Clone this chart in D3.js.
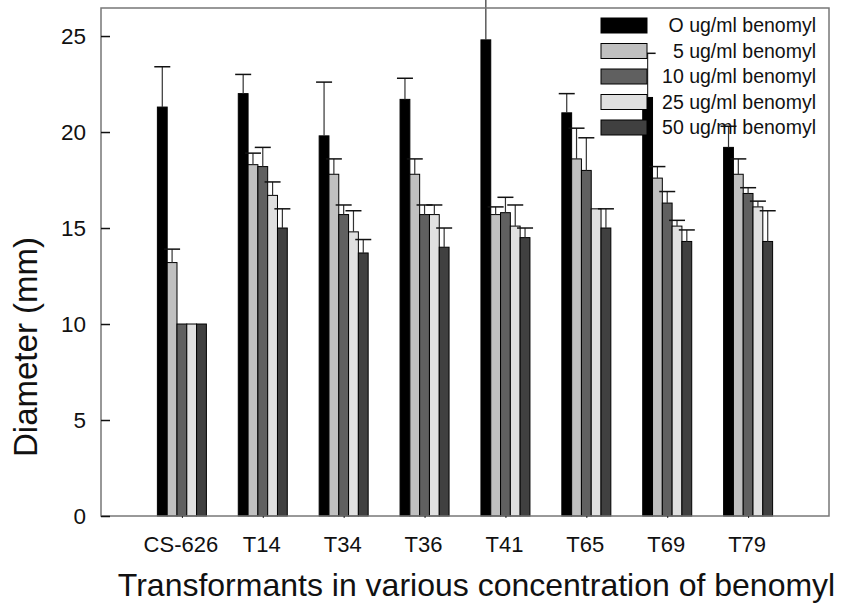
<!DOCTYPE html>
<html>
<head>
<meta charset="utf-8">
<script src="https://cdn.jsdelivr.net/npm/d3@7"></script>
<style>
  html, body { margin: 0; padding: 0; background: #fff; }
  svg { display: block; font-family: "Liberation Sans", Arial, sans-serif; }
</style>
</head>
<body>
<svg id="chart" width="848" height="607"></svg>
<script>
// Colony diameter of transformants grown at increasing benomyl concentrations
const categories = ["CS-626", "T14", "T34", "T36", "T41", "T65", "T69", "T79"];
const seriesNames = ["O ug/ml benomyl", "5 ug/ml benomyl", "10 ug/ml benomyl", "25 ug/ml benomyl", "50 ug/ml benomyl"];
const seriesColors = ["#000000", "#c0c0c0", "#606060", "#e0e0e0", "#404040"];

// mean diameter (mm) per concentration
const conc0  = [21.3, 22.0, 19.8, 21.7, 24.8, 21.0, 21.8, 19.2];
const conc5  = [13.2, 18.3, 17.8, 17.8, 15.7, 18.6, 17.6, 17.8];
const conc10 = [10.0, 18.2, 15.7, 15.7, 15.8, 18.0, 16.3, 16.8];
const conc25 = [10.0, 16.7, 14.8, 15.7, 15.1, 16.0, 15.1, 16.1];
const conc50 = [10.0, 15.0, 13.7, 14.0, 14.5, 15.0, 14.3, 14.3];

// upper error (mm)
const err0  = [2.1, 1.0, 2.8, 1.1, 2.7, 1.0, 2.3, 1.1];
const err5  = [0.7, 0.6, 0.8, 0.8, 0.4, 1.6, 0.6, 0.8];
const err10 = [0.0, 1.0, 0.5, 0.5, 0.8, 1.7, 0.6, 0.3];
const err25 = [0.0, 0.7, 1.1, 0.5, 1.1, 0.0, 0.3, 0.3];
const err50 = [0.0, 1.0, 0.7, 1.0, 0.5, 1.0, 0.6, 1.6];

const yTicks = [0, 5, 10, 15, 20, 25];
const xTitle = "Transformants in various concentration of benomyl";
const yTitle = "Diameter (mm)";

const means = [conc0, conc5, conc10, conc25, conc50];
const errs = [err0, err5, err10, err25, err50];

const svg = d3.select("#chart");
const plotLeft = 101, plotRight = 829, plotTop = 8, plotBottom = 516;

const x = d3.scalePoint().domain(categories).range([plotLeft, plotRight]).padding(1);
const inner = d3.scaleBand().domain(d3.range(seriesNames.length)).range([-24.5, 24.5]);
const y = d3.scaleLinear().domain([0, 26.46]).range([plotBottom, plotTop]);

const bars = [];
means.forEach((vals, s) => vals.forEach((v, i) => {
  bars.push({ s, cat: categories[i], v, e: errs[s][i] });
}));

// bars
svg.append("g").selectAll("rect").data(bars).join("rect")
  .attr("x", d => x(d.cat) + inner(d.s))
  .attr("y", d => y(d.v))
  .attr("width", inner.bandwidth())
  .attr("height", d => y(0) - y(d.v))
  .attr("fill", d => seriesColors[d.s])
  .attr("stroke", "#000")
  .attr("stroke-width", 1);

// upper error bars
const eb = svg.append("g").selectAll("g").data(bars.filter(d => d.e > 0)).join("g");
eb.append("line")
  .attr("x1", d => x(d.cat) + inner(d.s) + inner.bandwidth() / 2)
  .attr("x2", d => x(d.cat) + inner(d.s) + inner.bandwidth() / 2)
  .attr("y1", d => y(d.v))
  .attr("y2", d => y(d.v + d.e))
  .attr("stroke", "#333").attr("stroke-width", 1.2);
eb.append("line")
  .attr("x1", d => x(d.cat) + inner(d.s) + inner.bandwidth() / 2 - 8)
  .attr("x2", d => x(d.cat) + inner(d.s) + inner.bandwidth() / 2 + 8)
  .attr("y1", d => y(d.v + d.e))
  .attr("y2", d => y(d.v + d.e))
  .attr("stroke", "#111").attr("stroke-width", 1.5);

// frame
svg.append("rect")
  .attr("x", plotLeft).attr("y", plotTop)
  .attr("width", plotRight - plotLeft).attr("height", plotBottom - plotTop)
  .attr("fill", "none").attr("stroke", "#777").attr("stroke-width", 1.5);

// y axis: inward ticks
const yAxis = svg.append("g").attr("transform", `translate(${plotLeft},0)`)
  .call(d3.axisRight(y).tickValues(yTicks).tickSize(9).tickFormat(""));
yAxis.select(".domain").remove();
yAxis.selectAll(".tick line").attr("stroke", "#111").attr("stroke-width", 1.5);

svg.append("g").selectAll("text").data(yTicks).join("text")
  .attr("x", 86).attr("y", d => y(d)).attr("dy", "0.36em")
  .attr("text-anchor", "end")
  .style("font-size", "22.5px").attr("fill", "#111")
  .text(d => d);

// x axis: small ticks at group centres
const xAxis = svg.append("g").attr("transform", `translate(0,${plotBottom})`)
  .call(d3.axisBottom(x).tickSize(2).tickFormat(""));
xAxis.select(".domain").remove();
xAxis.selectAll(".tick line").attr("stroke", "#222");

svg.append("g").selectAll("text").data(categories).join("text")
  .attr("x", d => x(d) - 1).attr("y", 551.5)
  .attr("text-anchor", "middle")
  .style("font-size", "22px").attr("fill", "#111")
  .text(d => d);

// axis titles
svg.append("text")
  .attr("x", 476.5).attr("y", 596)
  .attr("text-anchor", "middle")
  .style("font-size", "32px").attr("fill", "#111")
  .text(xTitle);

svg.append("text")
  .attr("transform", "translate(37,347) rotate(-90)")
  .attr("text-anchor", "middle")
  .style("font-size", "33px").attr("fill", "#111")
  .text(yTitle);

// legend
const lg = svg.append("g").selectAll("g").data(seriesNames).join("g")
  .attr("transform", (d, i) => `translate(0,${18 + i * 25.5})`);
lg.append("rect")
  .attr("x", 601).attr("y", 0).attr("width", 46).attr("height", 15)
  .attr("fill", (d, i) => seriesColors[i])
  .attr("stroke", "#000").attr("stroke-width", 1);
lg.append("text")
  .attr("x", 816).attr("y", 14)
  .attr("text-anchor", "end")
  .style("font-size", "19.5px").attr("fill", "#111")
  .text(d => d);
</script>
</body>
</html>
